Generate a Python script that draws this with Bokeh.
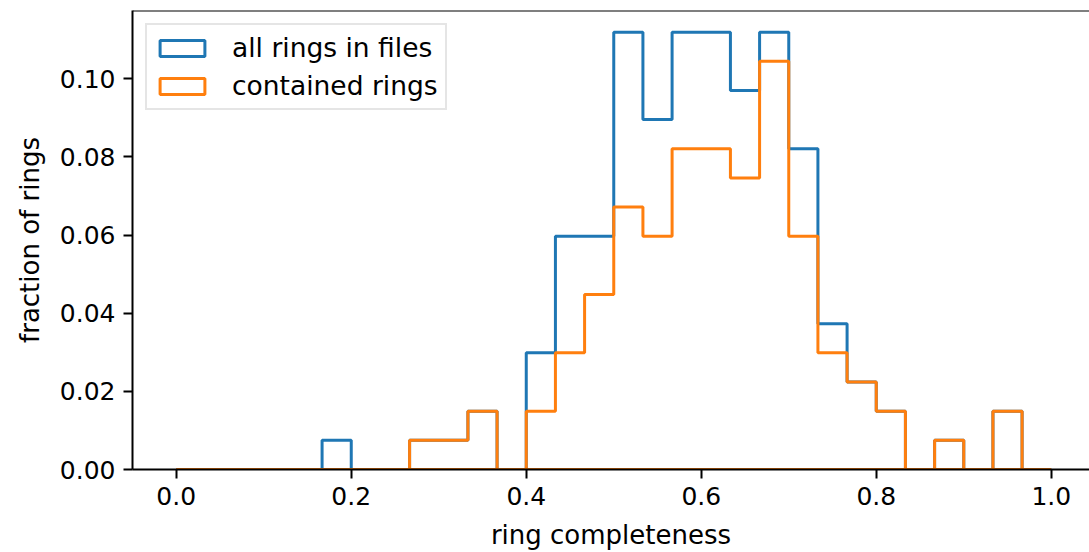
from bokeh.plotting import figure
from bokeh.models import Range1d, FixedTicker, PrintfTickFormatter, Span
from bokeh.embed import file_html
from bokeh.resources import INLINE

# ---- data ----
n_bins = 30
bin_lo, bin_hi = 0.0, 1.0
all_rings = [0, 0, 0, 0, 0, 0.0075, 0, 0, 0.0075, 0.0075,
             0.0149, 0, 0.0299, 0.0597, 0.0597, 0.1119, 0.0896, 0.1119, 0.1119, 0.0970,
             0.1119, 0.0821, 0.0373, 0.0224, 0.0149, 0, 0.0075, 0, 0.0149, 0]
contained = [0, 0, 0, 0, 0, 0, 0, 0, 0.0075, 0.0075,
             0.0149, 0, 0.0149, 0.0299, 0.0448, 0.0672, 0.0597, 0.0821, 0.0821, 0.0746,
             0.1045, 0.0597, 0.0299, 0.0224, 0.0149, 0, 0.0075, 0, 0.0149, 0]
series_labels = ["all rings in files", "contained rings"]
series_colors = ["#1f77b4", "#ff7f0e"]
x_ticks = [0.0, 0.2, 0.4, 0.6, 0.8, 1.0]
y_ticks = [0.00, 0.02, 0.04, 0.06, 0.08, 0.10]
x_label = "ring completeness"
y_label = "fraction of rings"

edges = [bin_lo + (bin_hi - bin_lo) * i / n_bins for i in range(n_bins + 1)]


def outline(vals):
    xs, ys = [edges[0]], [0.0]
    for i, v in enumerate(vals):
        xs += [edges[i], edges[i + 1]]
        ys += [v, v]
    xs.append(edges[-1])
    ys.append(0.0)
    return xs, ys


FONT = "DejaVu Sans"
ymax = max(all_rings) * 1.05

p = figure(width=1089, height=552, output_backend="svg", toolbar_location=None,
           x_range=Range1d(-0.05, 1.0437), y_range=Range1d(0, ymax),
           min_border_left=132, min_border_right=0, min_border_top=10, min_border_bottom=83)
p.outline_line_color = None
p.grid.visible = False
p.background_fill_color = "white"
p.border_fill_color = "white"

for vals, lab, col in zip([all_rings, contained], series_labels, series_colors):
    xs, ys = outline(vals)
    p.patch(xs, ys, fill_color=None, line_color=col, line_width=3, legend_label=lab)

# top spine
p.add_layout(Span(location=ymax, dimension="width", line_color="black", line_width=2))

for ax in (p.xaxis[0], p.yaxis[0]):
    ax.axis_line_color = "black"
    ax.axis_line_width = 2
    ax.major_tick_line_color = "black"
    ax.major_tick_line_width = 2
    ax.major_tick_out = 9
    ax.major_tick_in = 0
    ax.minor_tick_out = 0
    ax.minor_tick_in = 0
    ax.major_label_text_font = FONT
    ax.major_label_text_font_size = "25px"
    ax.major_label_text_color = "black"
    ax.axis_label_text_font = FONT
    ax.axis_label_text_font_size = "26px"
    ax.axis_label_text_font_style = "normal"
    ax.axis_label_text_color = "black"

p.xaxis[0].ticker = FixedTicker(ticks=x_ticks)
p.xaxis[0].formatter = PrintfTickFormatter(format="%.1f")
p.xaxis[0].axis_label = x_label
p.xaxis[0].major_label_standoff = 8
p.xaxis[0].axis_label_standoff = 12

p.yaxis[0].ticker = FixedTicker(ticks=y_ticks)
p.yaxis[0].formatter = PrintfTickFormatter(format="%.2f")
p.yaxis[0].axis_label = y_label
p.yaxis[0].major_label_standoff = 8
p.yaxis[0].axis_label_standoff = 12

lg = p.legend[0]
lg.location = "top_left"
lg.margin = 13
lg.padding = 7
lg.spacing = 7
lg.glyph_width = 56
lg.glyph_height = 20
lg.label_standoff = 22
lg.label_height = 28
lg.label_text_font = FONT
lg.label_text_font_size = "26.5px"
lg.label_text_color = "black"
lg.border_line_color = "#cccccc"
lg.border_line_width = 2
lg.background_fill_alpha = 0.8

open("out.html", "w").write(file_html(p, INLINE))
